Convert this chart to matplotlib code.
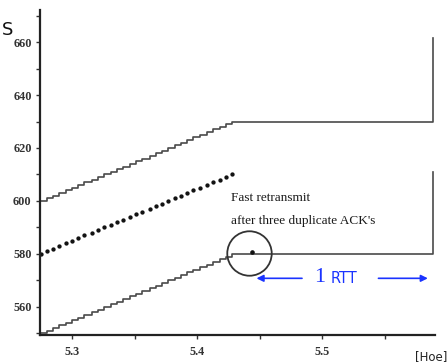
import matplotlib
matplotlib.use("Agg")
import matplotlib.pyplot as plt

# times at which each new packet goes out (s)
step_times = [5.275, 5.280, 5.285, 5.290, 5.295, 5.300, 5.305, 5.310, 5.316, 5.321,
              5.326, 5.331, 5.336, 5.341, 5.346, 5.351, 5.356, 5.362, 5.367, 5.372,
              5.377, 5.382, 5.387, 5.392, 5.397, 5.402, 5.408, 5.413, 5.418, 5.423,
              5.428]

# sequence numbers
seq_upper = [600, 601, 602, 603, 604, 605, 606, 607, 608, 609, 610, 611, 612, 613, 614,
             615, 616, 617, 618, 619, 620, 621, 622, 623, 624, 625, 626, 627, 628, 629, 630]
seq_dots = [580, 581, 582, 583, 584, 585, 586, 587, 588, 589, 590, 591, 592, 593, 594,
            595, 596, 597, 598, 599, 600, 601, 602, 603, 604, 605, 606, 607, 608, 609, 610]
seq_lower = [550, 551, 552, 553, 554, 555, 556, 557, 558, 559, 560, 561, 562, 563, 564,
             565, 566, 567, 568, 569, 570, 571, 572, 573, 574, 575, 576, 577, 578, 579, 580]

# flat part and jump at the end
end_time = 5.5885
upper_jump = 661.5
lower_jump = 611.0

# fast retransmit point
retx_time = 5.4417
retx_seq = 580.5

y_ticks = [560, 580, 600, 620, 640, 660]
x_ticks = [5.3, 5.4, 5.5]

fig = plt.figure(figsize=(4.48, 3.63), dpi=100)
ax = fig.add_axes([40 / 448, 1 - 335 / 363, 395 / 448, 325 / 363])

line_col = '#4a4a4a'
ax.plot(step_times + [end_time, end_time], seq_upper + [seq_upper[-1], upper_jump],
        drawstyle='steps-post', color=line_col, lw=1.2)
ax.plot(step_times + [end_time, end_time], seq_lower + [seq_lower[-1], lower_jump],
        drawstyle='steps-post', color=line_col, lw=1.2)
ax.plot(step_times, seq_dots, linestyle='none', marker='o', ms=2.1, color='#111111')

# circle round the retransmit
ax.plot([retx_time], [retx_seq], marker='o', ms=32, mfc='none', mec='#333333', mew=1.3)
ax.plot([retx_time + 0.002], [retx_seq + 0.1], marker='o', ms=2.3, color='#111111')

ax.text(5.4269, 601.1, 'Fast retransmit', family='Liberation Serif', fontsize=9.5,
        ha='left', va='center', color='#1a1a1a')
ax.text(5.4269, 592.5, "after three duplicate ACK's", family='Liberation Serif', fontsize=9.5,
        ha='left', va='center', color='#1a1a1a')

# 1 RTT arrows
blue = '#1a33ff'
ax.annotate('', xy=(5.4452, 570.8), xytext=(5.486, 570.8),
            arrowprops=dict(arrowstyle='-|>', color=blue, lw=1.2, mutation_scale=10))
ax.annotate('', xy=(5.5865, 570.8), xytext=(5.5426, 570.8),
            arrowprops=dict(arrowstyle='-|>', color=blue, lw=1.2, mutation_scale=10))
ax.text(5.4976, 571.2, '1', family='Liberation Serif', fontsize=16, color=blue,
        ha='center', va='center')
ax.text(5.5065, 570.8, 'RTT', family='DejaVu Sans', fontsize=10.5, color=blue,
        ha='left', va='center')

ax.set_xlim(5.2745, 5.590)
ax.set_ylim(549.4, 672.1)
ax.set_xticks(x_ticks)
ax.set_xticklabels(['5.3', '5.4', '5.5'])
ax.set_xticks([5.35, 5.45, 5.55], minor=True)
ax.set_yticks(y_ticks)
ax.set_yticklabels([str(v) for v in y_ticks])
ax.set_yticks([550, 570, 590, 610, 630, 650, 670], minor=True)

for lab in ax.get_xticklabels() + ax.get_yticklabels():
    lab.set_family('Liberation Serif')
    lab.set_fontweight('bold')
    lab.set_fontsize(8.8)
    lab.set_color('#333333')

ax.tick_params(which='both', direction='out', length=3, width=1, color='#333333')
ax.tick_params(axis='y', pad=3)
ax.tick_params(axis='x', pad=5)

ax.spines['top'].set_visible(False)
ax.spines['right'].set_visible(False)
ax.spines['left'].set_linewidth(1.6)
ax.spines['bottom'].set_linewidth(1.6)
ax.spines['left'].set_color('#222222')
ax.spines['bottom'].set_color('#222222')

fig.text(0.004, 1 - 35 / 363, 'S', fontsize=13, ha='left', va='baseline', color='#111111')
fig.text(447 / 448, 1 - 360 / 363, '[Hoe]', fontsize=8.5, ha='right', va='baseline',
         color='#222222')

fig.savefig('out.png', dpi=100)
